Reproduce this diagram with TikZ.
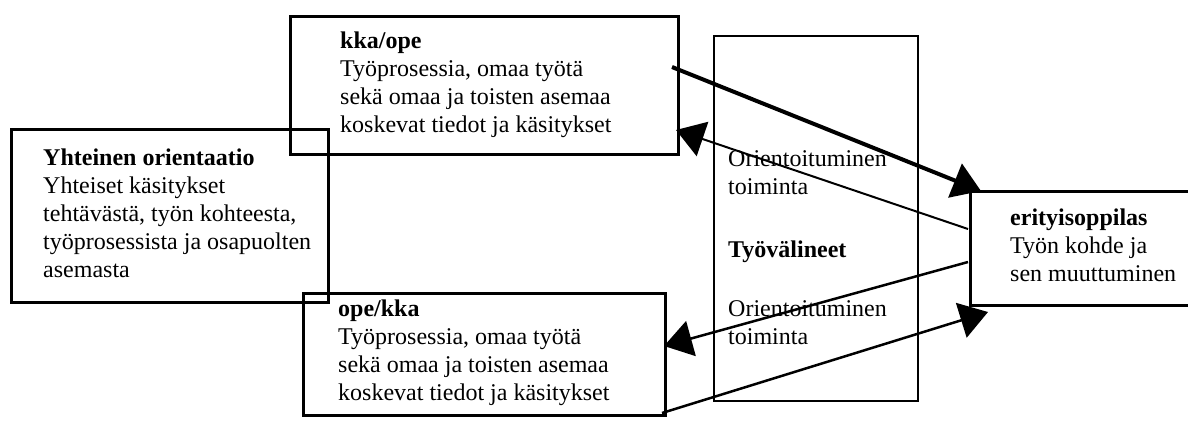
\documentclass[tikz,border=0pt]{standalone}
\usepackage{fontspec}
\setmainfont{Liberation Serif}
\usetikzlibrary{arrows.meta, positioning}

\tikzset{
  box/.style={draw, line width=3pt, inner sep=0pt, outer sep=0pt, anchor=north west},
  txt/.style={align=left, inner sep=0pt, font=\fontsize{24}{28}\selectfont},
  link/.style={-{Triangle[width=36pt, length=28pt]}, line width=2pt},
}

\begin{document}
\begin{tikzpicture}[x=1pt, y=-1pt]
    \useasboundingbox (0,0) rectangle (1188,426);

    % Boxes
    \node[box, minimum width=317pt, minimum height=173pt] (orient) at (11,129) {};
    \node[box, minimum width=388pt, minimum height=138pt] (kka) at (290,16) {};
    \node[box, minimum width=362pt, minimum height=122pt] (ope) at (303,293) {};
    \node[box, line width=2pt, minimum width=204pt, minimum height=365pt] (valineet) at (714,36) {};
    \node[box, minimum width=222pt, minimum height=114pt] (oppilas) at (970,191) {};

    % Texts
    \node[txt, below right=19.5pt and 32pt of orient.north west] (orienttxt) {\textbf{Yhteinen orientaatio}\\Yhteiset käsitykset\\tehtävästä, työn kohteesta,\\työprosessista ja osapuolten\\asemasta};
    \node[txt, below right=15.5pt and 50pt of kka.north west] (kkatxt) {\textbf{kka/ope}\\Työprosessia, omaa työtä\\sekä omaa ja toisten asemaa\\koskevat tiedot ja käsitykset};
    \node[txt, below right=6.5pt and 35pt of ope.north west] (opetxt) {\textbf{ope/kka}\\Työprosessia, omaa työtä\\sekä omaa ja toisten asemaa\\koskevat tiedot ja käsitykset};
    \node[txt, below right=114.5pt and 14pt of valineet.north west] (valtxt) {Orientoituminen\\toiminta\\[35pt]\textbf{Työvälineet}\\[31pt]Orientoituminen\\toiminta};
    \node[txt, below right=17.5pt and 40pt of oppilas.north west] (oppilastxt) {\textbf{erityisoppilas}\\Työn kohde ja\\sen muuttuminen};

    % Arrow ends
    \coordinate (kkaout) at (672,67);
    \coordinate (opptop) at (981,191);
    \coordinate (oppin1) at (968,229);
    \coordinate (kkain) at (676,130);
    \coordinate (oppin2) at (968,262);
    \coordinate (opein) at (664,346);
    \coordinate (opeout) at (662,413);
    \coordinate (oppbot) at (988,312);

    % Arrows
    \draw[link, line width=4pt] (kkaout) -- (opptop);
    \draw[link] (oppin1) -- (kkain);
    \draw[link, line width=2.5pt] (oppin2) -- (opein);
    \draw[link, line width=2.5pt] (opeout) -- (oppbot);
\end{tikzpicture}
\end{document}
